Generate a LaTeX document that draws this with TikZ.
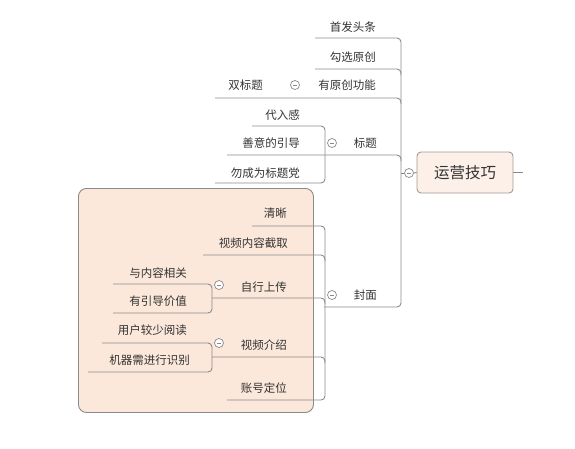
\documentclass[tikz,border=0pt]{standalone}
\usepackage{fontspec}
\newfontfamily\cjk{Noto Sans CJK SC}
\definecolor{linec}{HTML}{8A8A8A}
\definecolor{txtc}{HTML}{333333}
\definecolor{grpfill}{HTML}{FCE8DB}
\definecolor{rootfill}{HTML}{FCF0E8}
\definecolor{rootdraw}{HTML}{A39A94}
\begin{document}
\begin{tikzpicture}[x=1pt,y=-1pt,
  ln/.style={draw=linec, line width=0.9pt, rounded corners=4pt},
  tx/.style={font=\cjk\fontsize{11.5}{12}\selectfont, text=txtc, inner sep=0pt, anchor=east},
  rootbox/.style={draw=rootdraw, fill=rootfill, line width=0.9pt, rounded corners=4pt,
     minimum width=96pt, minimum height=41pt, font=\cjk\fontsize{15.5}{16}\selectfont, text=txtc},
  grpbox/.style={draw=linec, fill=grpfill, line width=0.9pt, rounded corners=8pt},
  col/.style={circle, draw=linec, line width=0.7pt, minimum size=9pt, inner sep=0pt, fill=white,
     path picture={\draw[linec, line width=0.7pt]
        ([xshift=-2.3pt]path picture bounding box.center) -- ([xshift=2.3pt]path picture bounding box.center);}}
]
\useasboundingbox (0,0) rectangle (575,448);
% group background
\node[grpbox, minimum width=235pt, minimum height=224pt, anchor=north west] (grp) at (78,188) {};

% root
\node[rootbox] (root) at (465,172.5) {运营技巧};
\coordinate (rootend) at (523,172.5);
\draw[ln] (root.east) -- (rootend);
\node[col] (c0) at (409,173) {};
\coordinate (vmid) at (401,173);
\draw[ln] (vmid) -- (c0.west);
\draw[ln] (c0.east) -- (root.west);

% main branch labels
\node[tx] (t1) at (376,27) {首发头条};
\node[tx] (t2) at (376,57) {勾选原创};
\node[tx] (t3) at (376,85) {有原创功能};
\node[tx] (t4) at (377,143) {标题};
\node[tx] (t5) at (377,295) {封面};

% main bracket
\coordinate (m1) at (315,38);
\coordinate (mtop) at (401,38);
\coordinate (mbot) at (401,307);
\coordinate (m5) at (324,307);
\draw[ln] (m1) -- (mtop) -- (mbot) -- (m5);
\coordinate (m2) at (315,69);   \coordinate (j2) at (401,69);  \coordinate (k2) at (401,75);
\coordinate (m3) at (215,98);   \coordinate (j3) at (401,98);  \coordinate (k3) at (401,104);
\coordinate (m4) at (227,155);  \coordinate (j4) at (401,155); \coordinate (k4) at (401,161);
\draw[ln] (m2) -- (j2) -- (k2);
\draw[ln] (m3) -- (j3) -- (k3);
\draw[ln] (m4) -- (j4) -- (k4);

% 有原创功能 child
\node[tx] (t31) at (263,85) {双标题};
\node[col] (c3) at (295,85) {};

% 标题 children
\node[tx] (t41) at (300,115) {代入感};
\node[tx] (t42) at (300,143) {善意的引导};
\node[tx] (t43) at (300,173) {勿成为标题党};
\node[col] (c4) at (332,143) {};
\coordinate (b41) at (252,126); \coordinate (b4t) at (325,126);
\coordinate (b4b) at (325,183); \coordinate (b43) at (215,183);
\draw[ln] (b41) -- (b4t) -- (b4b) -- (b43);

% 封面 children
\node[col] (c5) at (332,295) {};
\node[tx] (t51) at (287,213) {清晰};
\node[tx] (t52) at (288,243) {视频内容截取};
\node[tx] (t53) at (287,287) {自行上传};
\node[tx] (t54) at (287,345) {视频介绍};
\node[tx] (t55) at (287,388) {账号定位};
\coordinate (b51) at (252,226); \coordinate (b5t) at (325,226);
\coordinate (b5b) at (325,400); \coordinate (b55) at (227,400);
\draw[ln] (b51) -- (b5t) -- (b5b) -- (b55);
\coordinate (b52) at (203,255); \coordinate (j52) at (325,255); \coordinate (k52) at (325,261);
\coordinate (b53) at (212,298); \coordinate (j53) at (325,298); \coordinate (k53) at (325,304);
\coordinate (b54) at (212,357); \coordinate (j54) at (325,357); \coordinate (k54) at (325,363);
\draw[ln] (b52) -- (j52) -- (k52);
\draw[ln] (b53) -- (j53) -- (k53);
\draw[ln] (b54) -- (j54) -- (k54);

% 自行上传 children
\node[col] (c53) at (219,285) {};
\node[tx] (t531) at (187,273) {与内容相关};
\node[tx] (t532) at (187,301) {有引导价值};
\coordinate (s1a) at (113,284); \coordinate (s1t) at (212,284);
\coordinate (s1b) at (212,313); \coordinate (s1c) at (113,313);
\draw[ln] (s1a) -- (s1t) -- (s1b) -- (s1c);

% 视频介绍 children
\node[col] (c54) at (219,343) {};
\node[tx] (t541) at (187,330) {用户较少阅读};
\node[tx] (t542) at (190,360) {机器需进行识别};
\coordinate (s2a) at (102,343); \coordinate (s2t) at (212,343);
\coordinate (s2b) at (212,372); \coordinate (s2c) at (88,372);
\draw[ln] (s2a) -- (s2t) -- (s2b) -- (s2c);
\end{tikzpicture}
\end{document}
